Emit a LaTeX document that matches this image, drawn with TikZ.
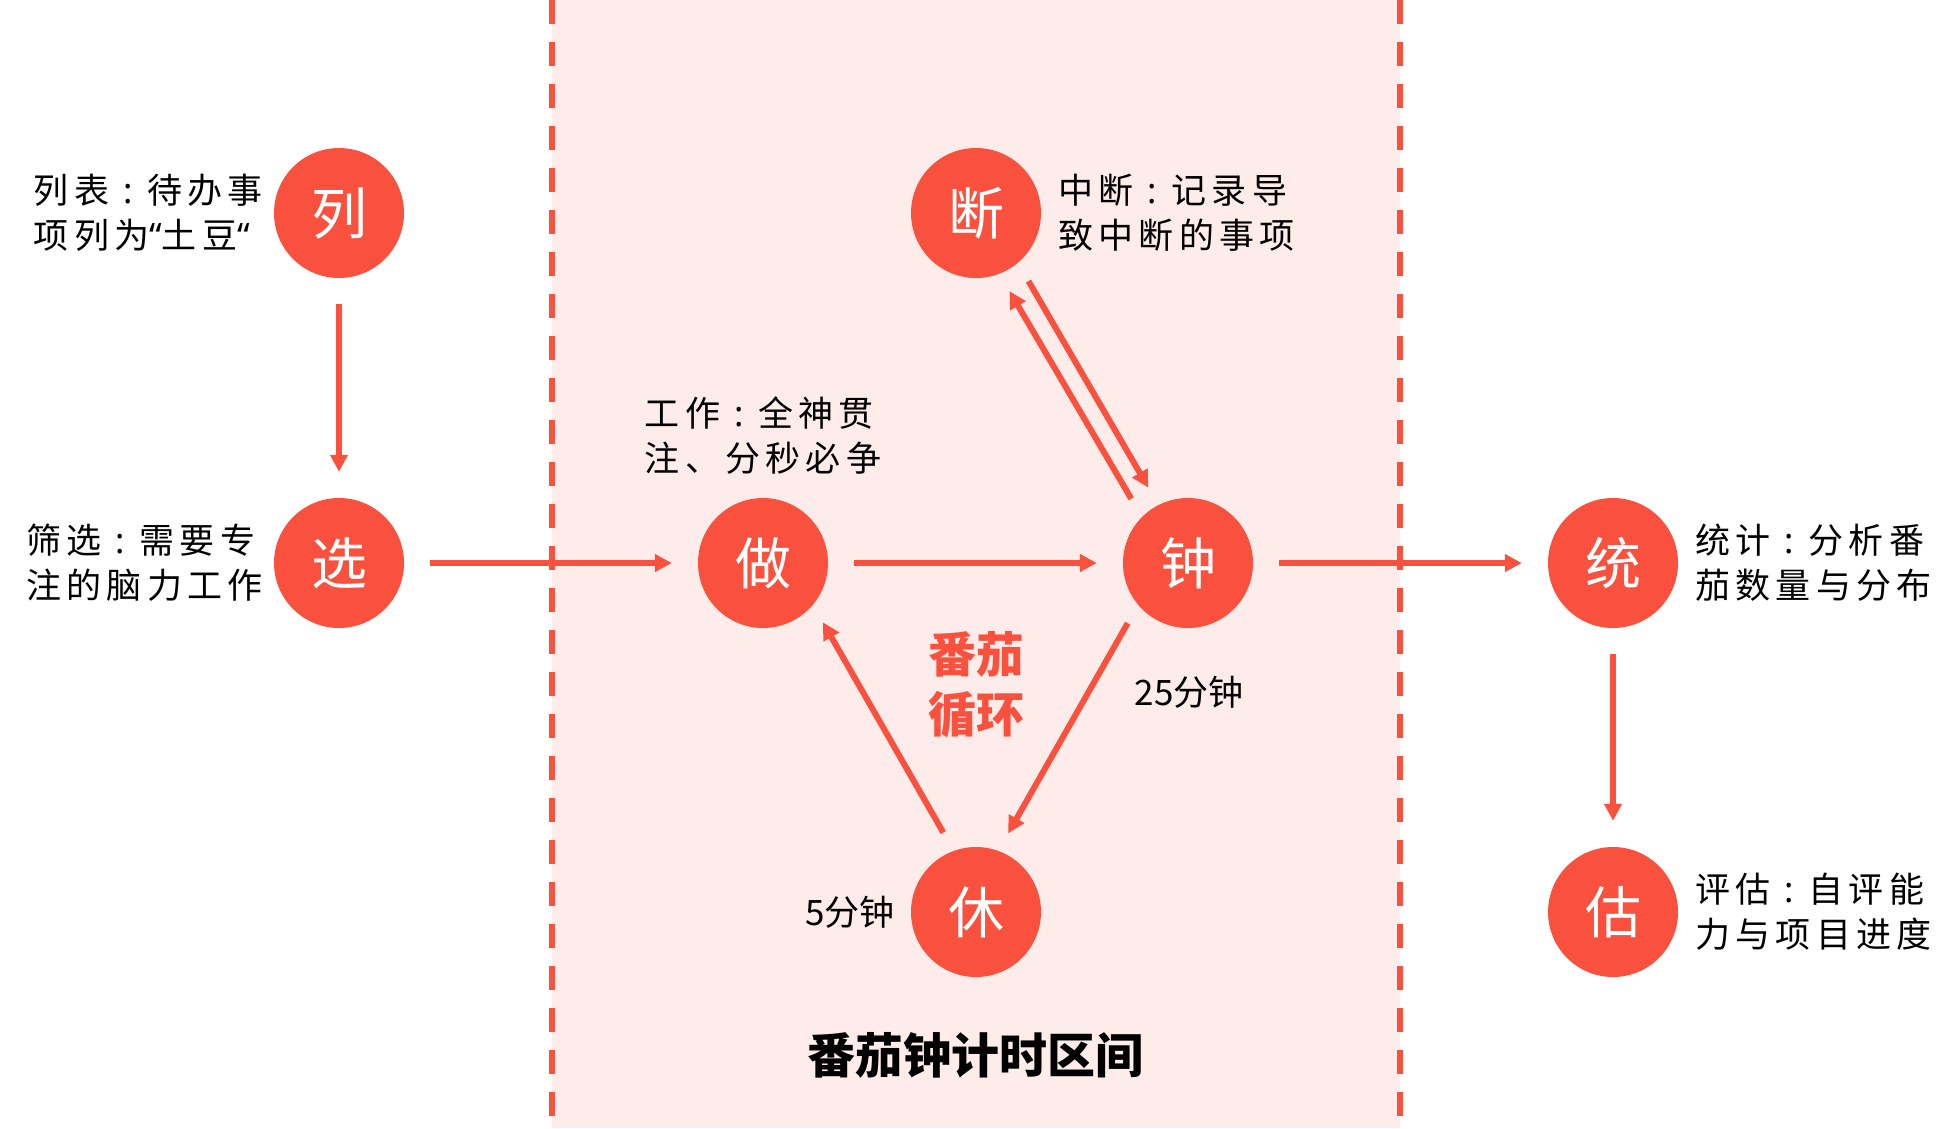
\documentclass[tikz,border=0pt]{standalone}
\usepackage{fontspec}
\setmainfont{Noto Sans CJK SC}
\newfontfamily\notefont[LetterSpace=15]{Noto Sans CJK SC}
\newfontfamily\quotefont[LetterSpace=15]{Noto Sans}
\newcommand\midcolon{\makebox[38pt][c]{\quotefont :}}
\usetikzlibrary{arrows.meta,positioning}
\definecolor{tomato}{HTML}{FA503E}
\definecolor{zonepink}{HTML}{FEECEA}

\begin{document}
\begin{tikzpicture}[x=1pt, y=1pt, >={Triangle[length=17pt,width=17pt]},
  phase/.style={circle, fill=tomato, text=white, minimum size=130pt, inner sep=0pt, font=\fontsize{56}{56}\selectfont},
  note/.style={align=left, inner sep=0pt, font={\notefont\fontsize{35}{45}\selectfont}},
  timing/.style={inner sep=0pt, font=\fontsize{35}{45}\selectfont},
  flow/.style={->, tomato, line width=6pt, shorten <=26pt, shorten >=26pt},
  diag/.style={->, tomato, line width=6pt, shorten <=21pt, shorten >=20pt}]
  \useasboundingbox (0,0) rectangle (1953,-1128);
  \fill[zonepink] (552,0) rectangle (1400,-1128);
  \foreach \x in {552,1400} \draw[tomato, line width=6pt, dash pattern=on 24pt off 18pt] (\x,0) -- (\x,-1128);
  \foreach \name/\pos/\txt in {lie/{339,-213}/列, xuan/{339,-563}/选, zuo/{763,-563}/做, zhong/{1188,-563}/钟,
      duan/{976,-213}/断, xiu/{976,-912}/休, tong/{1613,-563}/统, gu/{1613,-912}/估}
    \node[phase] (\name) at (\pos) {\txt};
  \node[note, left=11pt of lie] (lietxt) {列表\midcolon 待办事\\项列为{\quotefont “}土豆{\quotefont “}};
  \node[note, left=11pt of xuan] (xuantxt) {筛选\midcolon 需要专\\注的脑力工作};
  \node[note, above=23pt of zuo] (zuotxt) {工作\midcolon 全神贯\\注、分秒必争};
  \node[note, right=17pt of duan] (duantxt) {中断\midcolon 记录导\\致中断的事项};
  \node[note, right=17pt of tong] (tongtxt) {统计\midcolon 分析番\\茄数量与分布};
  \node[note, right=17pt of gu] (gutxt) {评估\midcolon 自评能\\力与项目进度};
  \node[timing] (work) at (1189,-692) {25分钟};
  \node[timing, left=16pt of xiu] (rest) {5分钟};
  \node[align=center, text=tomato, font=\bfseries\fontsize{48}{60}\selectfont] (loop) at (976,-685) {番茄\\循环};
  \node[font=\bfseries\fontsize{48}{60}\selectfont] (zone) at (975,-1055) {番茄钟计时区间};
  \foreach \a/\b in {lie/xuan, xuan/zuo, zuo/zhong, zhong/tong, tong/gu} \draw[flow] (\a) -- (\b);
  \draw[diag] (zhong.135) -- (duan.291);
  \draw[diag] (duan.310) -- (zhong.117);
  \draw[diag] (zhong.220) -- (xiu.70);
  \draw[diag] (xiu.110) -- (zuo.320);
\end{tikzpicture}
\end{document}
